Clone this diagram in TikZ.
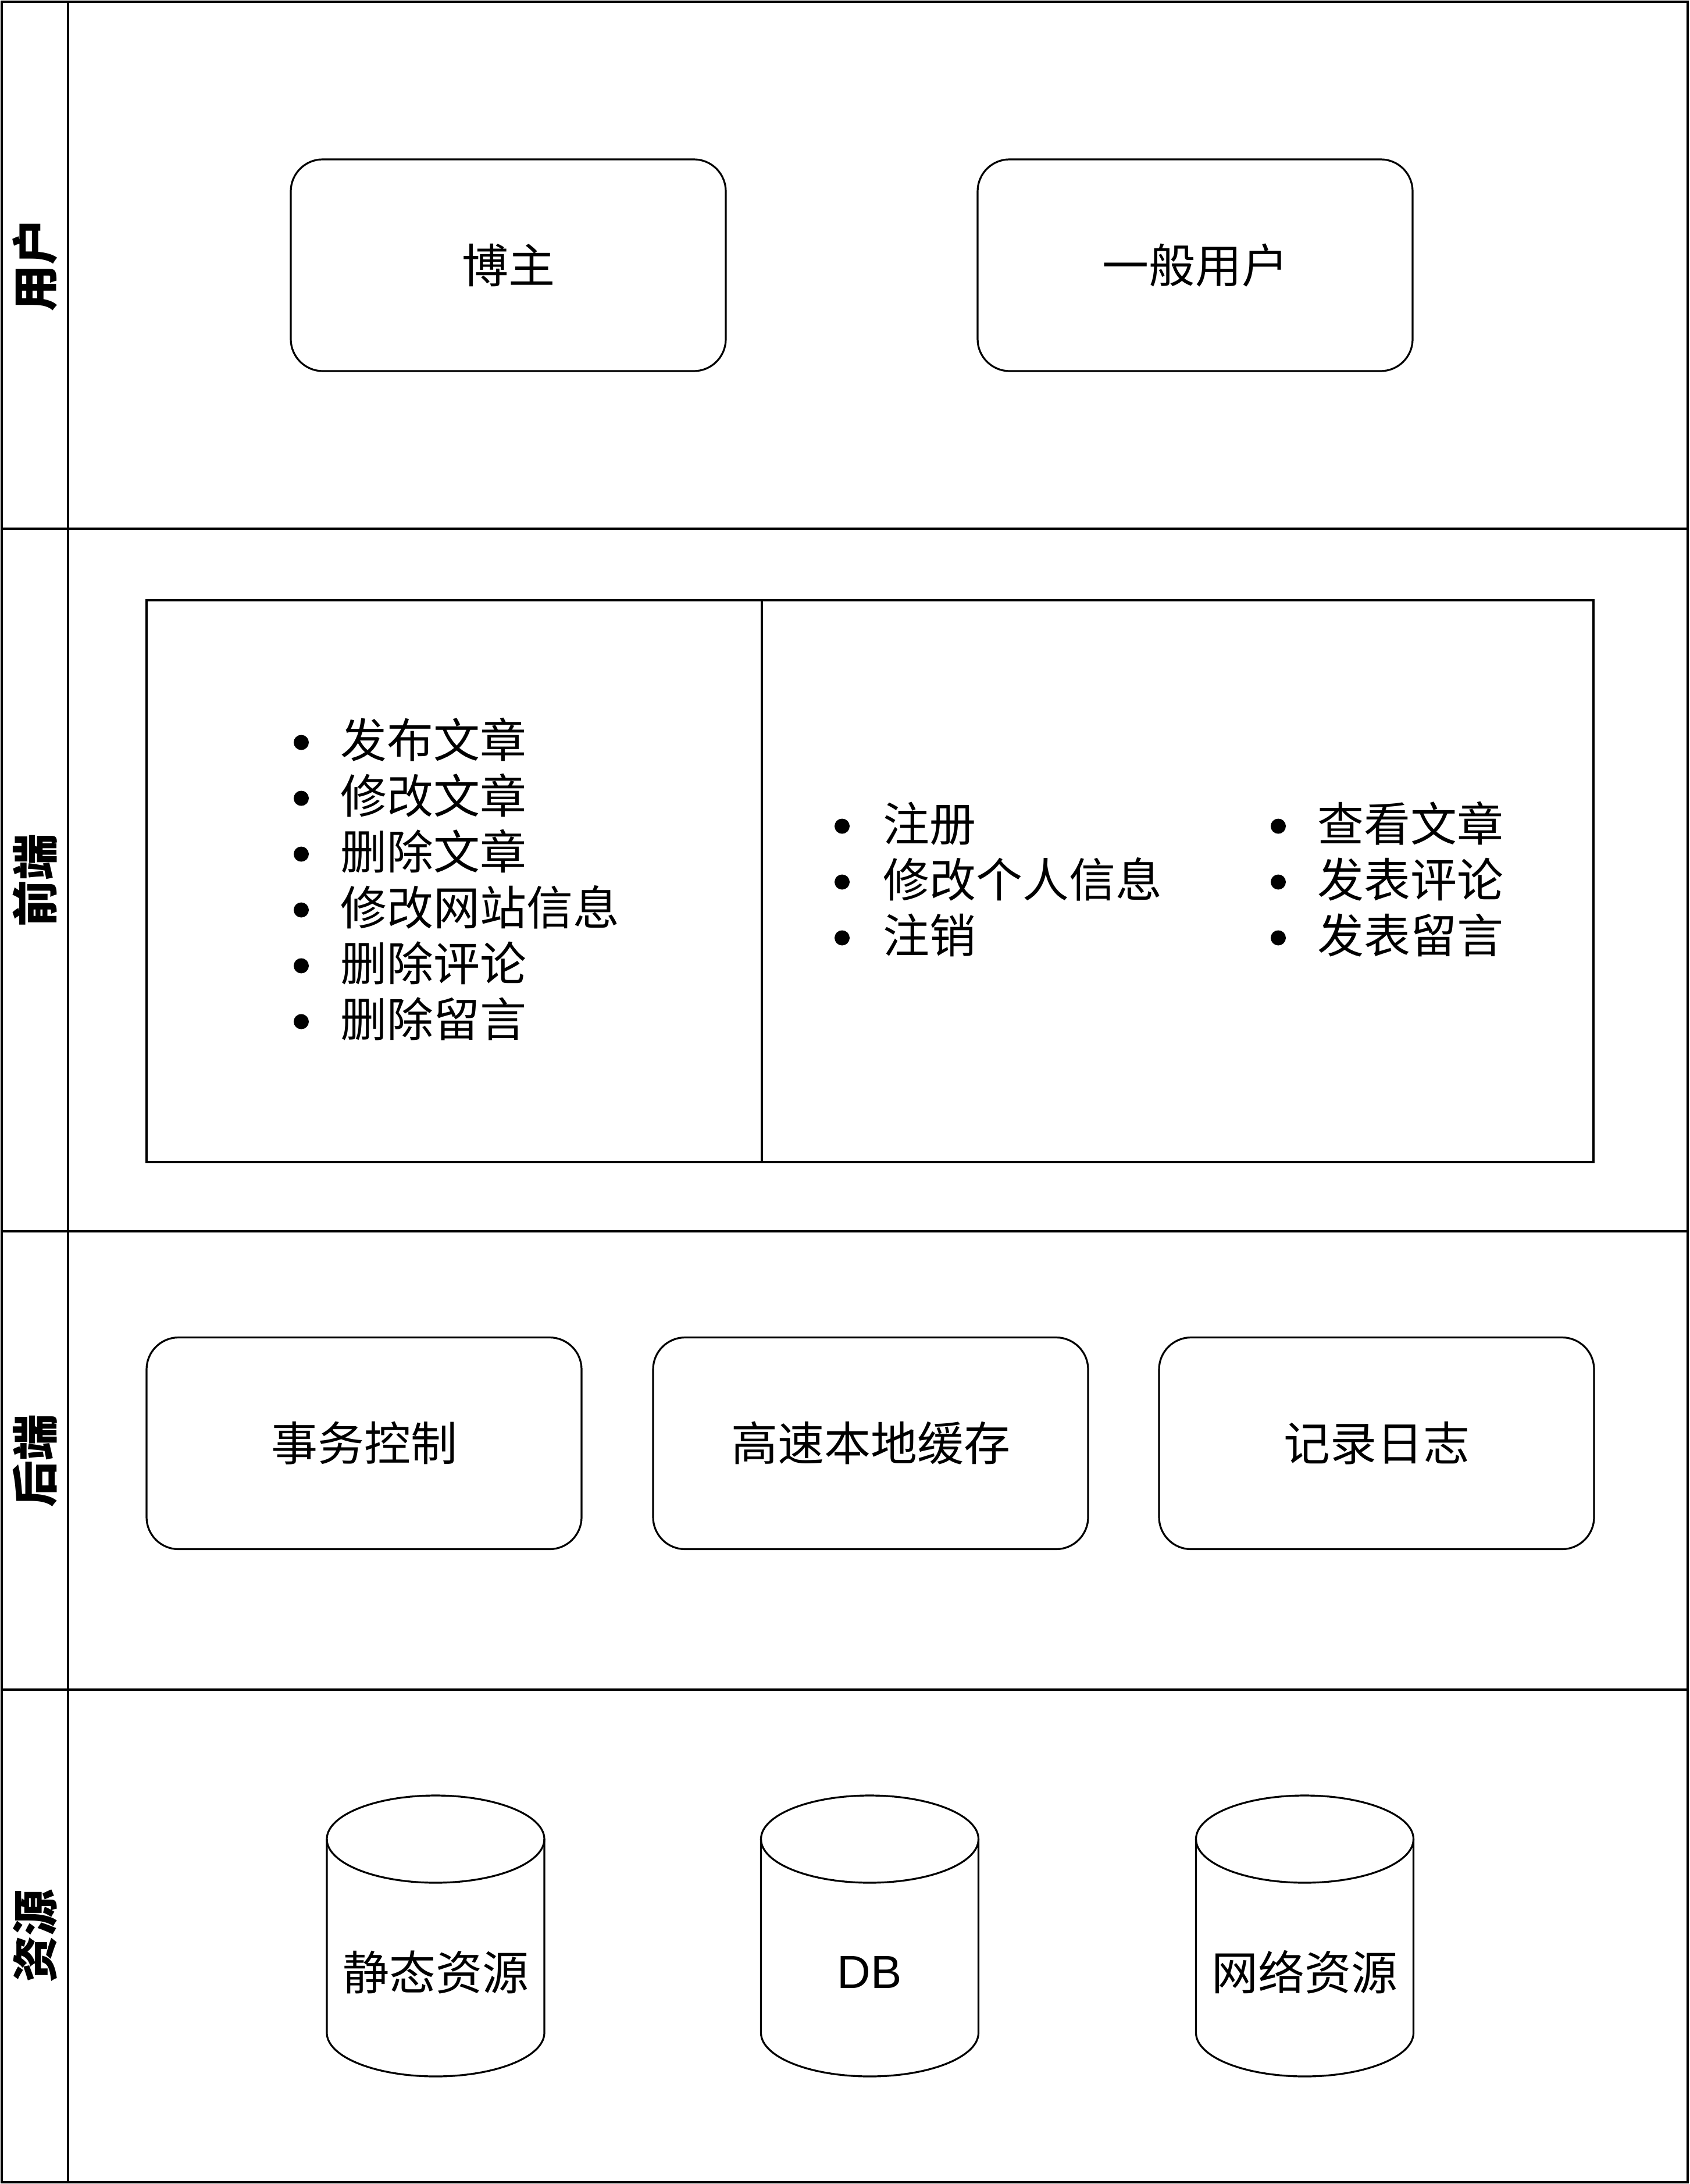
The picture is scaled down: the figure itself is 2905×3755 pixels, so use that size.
\documentclass[tikz,border=0pt]{standalone}
\usepackage{fontspec}
\setmainfont{Noto Sans CJK SC}
\newfontfamily\latinfont{Liberation Sans}
\begin{document}
\begin{tikzpicture}[x=0.25pt,y=-0.25pt,line width=0.8pt,
  font=\fontsize{20pt}{24pt}\selectfont,
  hdr/.style={rotate=90,inner sep=0,font=\fontsize{20pt}{24pt}\selectfont\bfseries},
  rbox/.style={draw,rounded corners=13.75pt,minimum width=187pt,minimum height=91pt,inner sep=0,align=center},
  panel/.style={draw,inner sep=0,minimum height=241.5pt},
  item/.style={anchor=west,inner sep=0},
  lbl/.style={inner sep=0}]
\useasboundingbox (0,0) rectangle (2905,3755);
% swimlane frame
\draw (3,3) rectangle (2902,3752);
\draw (117,3) -- (117,3752);
\draw (3,909) -- (2902,909);
\draw (3,2117) -- (2902,2117);
\draw (3,2905) -- (2902,2905);
% lane headers
\node[hdr] (h1) at (60,456) {用户};
\node[hdr] (h2) at (60,1513) {前端};
\node[hdr] (h3) at (60,2511) {后端};
\node[hdr] (h4) at (60,3328) {资源};
% users
\node[rbox] (blogger) at (874,456) {博主};
\node[rbox] (user) at (2055,456) {一般用户};
% frontend
\node[panel,minimum width=264.5pt] (feL) at (781,1515) {};
\node[panel,minimum width=357.5pt] (feR) at (2025,1515) {};
\foreach \t [count=\i from 0] in {发布文章,修改文章,删除文章,修改网站信息,删除评论,删除留言}{
  \fill (518,1276.5+96*\i) circle[radius=13];
  \node[item] (l\i) at (584,1272+96*\i) {\t};
}
\foreach \t [count=\i from 0] in {注册,修改个人信息,注销}{
  \fill (1448,1420.5+96*\i) circle[radius=13];
  \node[item] (a\i) at (1517,1416+96*\i) {\t};
}
\foreach \t [count=\i from 0] in {查看文章,发表评论,发表留言}{
  \fill (2198,1420.5+96*\i) circle[radius=13];
  \node[item] (b\i) at (2264,1416+96*\i) {\t};
}
% backend
\node[rbox] (tx) at (626,2481.5) {事务控制};
\node[rbox] (cache) at (1497,2481.5) {高速本地缓存};
\node[rbox] (log) at (2367,2481.5) {记录日志};
% resources
\foreach \cx/\nm/\t in {749/static/静态资源,1495.5/db/{\latinfont DB},2243.5/net/网络资源}{
  \draw (\cx-187,3162) -- (\cx-187,3495)
        arc[start angle=180,end angle=0,x radius=187,y radius=75]
        -- (\cx+187,3162);
  \draw (\cx,3162) ellipse[x radius=187,y radius=75];
  \node[lbl] (\nm) at (\cx,3391) {\t};
}
\end{tikzpicture}
\end{document}
